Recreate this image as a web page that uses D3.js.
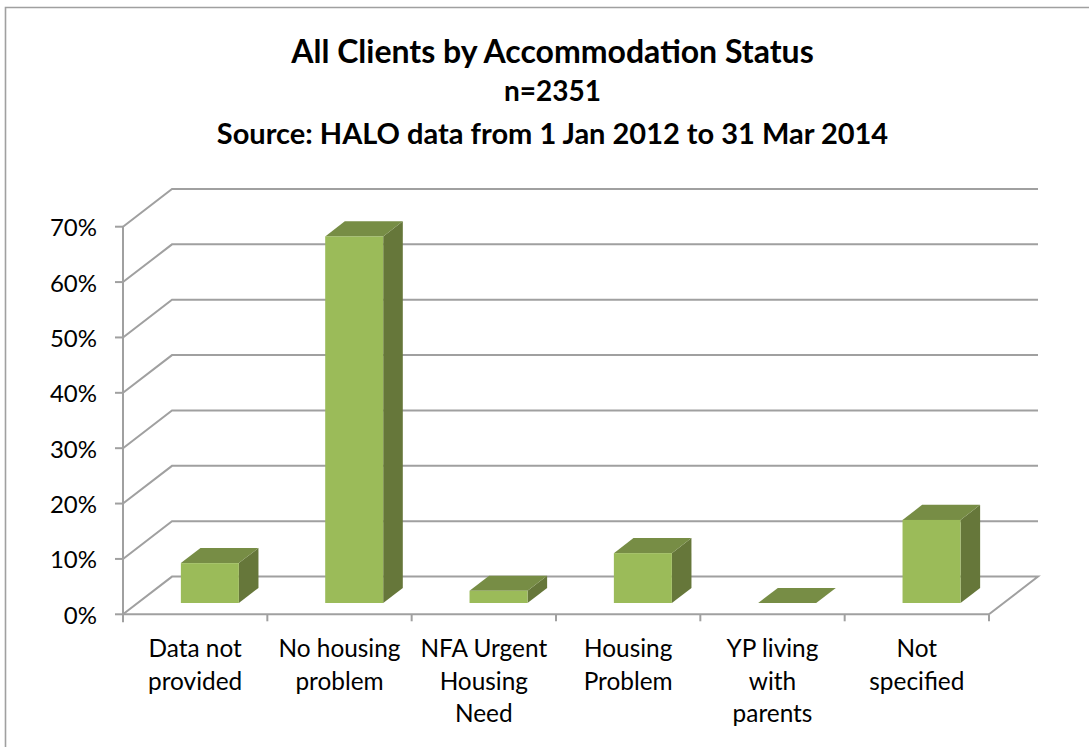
<!DOCTYPE html>
<html><head><meta charset="utf-8">
<script src="https://cdn.jsdelivr.net/npm/d3@7"></script>
<style>html,body{margin:0;padding:0;background:#fff}svg{display:block}text{font-family:Lato,"Open Sans",sans-serif;fill:#000}</style>
</head><body><svg id="c" width="1089" height="747"></svg>
<script>
const categories=[["Data not","provided"],["No housing","problem"],["NFA Urgent","Housing","Need"],["Housing","Problem"],["YP living","with","parents"],["Not","specified"]];
const values=[0.072,0.662,0.022,0.09,0,0.15];
const yTicks=[0,0.1,0.2,0.3,0.4,0.5,0.6,0.7];
const titleLines=["All Clients by Accommodation Status","n=2351","Source: HALO data from 1 Jan 2012 to 31 Mar 2014"];

const svg=d3.select("#c");
const gray="#a0a0a0";
const DX=49,DY=-37.7;
const x=d3.scaleBand().domain(d3.range(categories.length)).range([123,989]);
const y=d3.scaleLinear().domain([0,0.7]).range([614.3,226.7]);

svg.append("path").attr("d","M5.5,747V7.5H1089").attr("fill","none").attr("stroke",gray).attr("stroke-width",1.6);

const title=svg.append("g");
titleLines.forEach((t,i)=>title.append("text").attr("x",552.5).attr("y",[63,101,144][i]).attr("text-anchor","middle")
  .attr("font-weight",700).attr("font-size",[32,28,29][i]).text(t));

const line=(a,b,c,d)=>svg.append("line").attr("x1",a).attr("y1",b).attr("x2",c).attr("y2",d).attr("stroke",gray).attr("stroke-width",2);
yTicks.forEach(v=>{
  const Y=y(v);
  svg.append("path").attr("d",`M123,${Y}L${123+DX},${Y+DY}H${989+DX}`+(v===0?`L989,${Y}`:"")).attr("fill","none").attr("stroke",gray).attr("stroke-width",2);
  line(115,Y,123,Y);
  svg.append("text").attr("x",97).attr("y",Y+9.5).attr("text-anchor","end").attr("font-size",24).text(d3.format(".0%")(v));
});
line(123,y(0.7),123,y(0)+8);
line(123,y(0),989,y(0));
d3.range(categories.length+1).forEach(i=>{const X=i<categories.length?x(i):x.range()[1];line(X,y(0),X,y(0)+7);});

const fy=0.3,by=0.7,bw=58;
const g=svg.selectAll("g.bar").data(values).join("g").attr("class","bar");
const barX=i=>x(i)+x.bandwidth()/2+DX*fy-bw/2;
const base=y(0)+DY*fy;
const barTop=v=>base-(y(0)-y(v));
const ddx=DX*(by-fy),ddy=DY*(by-fy);
g.append("path").attr("fill","#66773a").attr("d",(v,i)=>{const X=barX(i)+bw;return `M${X},${barTop(v)}l${ddx},${ddy}V${base+ddy}L${X},${base}Z`;});
g.append("path").attr("fill","#778d45").attr("d",(v,i)=>{const X=barX(i);return `M${X},${barTop(v)}l${ddx},${ddy}h${bw}l${-ddx},${-ddy}Z`;});
g.append("rect").attr("fill","#9bbb59").attr("x",(v,i)=>barX(i)).attr("width",bw).attr("y",v=>barTop(v)).attr("height",v=>base-barTop(v));

categories.forEach((c,i)=>{
  const t=svg.append("text").attr("text-anchor","middle").attr("font-size",24.4);
  c.forEach((s,j)=>t.append("tspan").attr("x",x(i)+x.bandwidth()/2).attr("y",657+j*32.5).text(s));
});
</script></body></html>
